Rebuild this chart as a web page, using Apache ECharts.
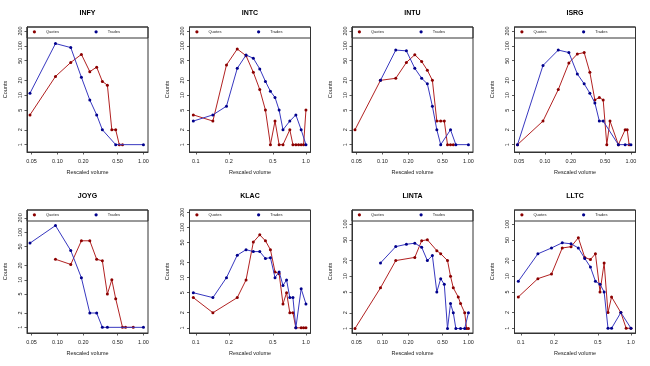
<!DOCTYPE html>
<html>
<head>
<meta charset="utf-8">
<script src="https://cdn.jsdelivr.net/npm/echarts@6/dist/echarts.min.js"></script>
<style>
  html, body { margin: 0; padding: 0; background: #fff; }
  #main { width: 650px; height: 366px; }
</style>
</head>
<body>
<div id="main"></div>
<script>
// rescaled volume bins shared by every panel
const bins = [0.048, 0.095, 0.143, 0.190, 0.238, 0.286, 0.333, 0.381, 0.429, 0.476, 0.524,
              0.571, 0.619, 0.667, 0.714, 0.762, 0.810, 0.857, 0.905, 0.952, 1.000];
const _ = null; // empty bin

// counts per bin (null = nothing in that bin)
const infyQuotes  = [4, 24, 46, 67, 30, 37, 19, 16, 2, 2, 1, 1, _, _, _, _, _, _, _, _, _];
const infyTrades  = [11, 111, 92, 23, 8, 4, 2, _, _, 1, _, _, _, _, _, _, _, _, _, _, 1];
const intcQuotes  = [_, 4, 3, 41, 86, 63, 29, 13, 5, 1, 3, 1, 1, _, 2, 1, 1, 1, 1, 1, 5];
const intcTrades  = [_, 3, 4, 6, 35, 65, 56, 34, 19, 12, 9, 5, 2, _, 3, _, 4, _, 2, _, 1];
const intuQuotes  = [2, 20, 22, 46, 66, 48, 32, 20, 3, 3, 3, 1, 1, 1, _, _, _, _, _, _, _];
const intuTrades  = [_, 20, 82, 79, 35, 22, 17, 6, 2, 1, _, _, 2, _, 1, _, _, _, _, _, 1];
const isrgQuotes  = [1, 3, 13, 45, 68, 73, 29, 8, 9, 8, 1, 3, _, _, 1, _, _, 2, 2, 1, _];
const isrgTrades  = [1, 40, 82, 73, 27, 17, 11, 7, 3, 3, _, _, _, _, 1, _, _, 1, _, _, 1];
const joygQuotes  = [_, 27, 21, 66, 66, 27, 25, 5, 10, 4, _, 1, 1, _, _, 1, _, _, _, _, _];
const joygTrades  = [59, 138, 41, 11, 2, 2, 1, 1, _, _, _, _, _, _, _, _, _, _, _, _, 1];
const klacQuotes  = [_, 4, 2, _, 4, 9, 51, 71, 54, 36, 13, 12, 3, 5, 2, 2, 1, _, 1, 1, 1];
const klacTrades  = [_, 5, 4, 10, 28, 36, 33, 33, 24, 25, 10, 13, 7, 9, 4, 4, 1, _, 6, _, 3];
const lintaQuotes = [1, 6, 20, _, 23, 48, 50, _, 31, 27, _, 20, 10, 6, _, 4, 3, _, 2, 1, 1];
const lintaTrades = [_, 18, 37, 41, 43, 36, 20, 25, 5, 9, 7, 1, 3, 2, 1, _, 1, _, 1, _, 2];
const lltcQuotes  = [_, 4, 9, 11, 35, 37, 55, 23, 21, 27, 5, 18, 2, 4, _, _, 2, _, 1, _, 1];
const lltcTrades  = [_, 8, 27, 35, 44, 42, 35, 22, 15, 8, 7, 5, 1, 1, _, _, 2, _, _, _, 1];

const tickers = ['INFY', 'INTC', 'INTU', 'ISRG', 'JOYG', 'KLAC', 'LINTA', 'LLTC'];
const quotes = [infyQuotes, intcQuotes, intuQuotes, isrgQuotes, joygQuotes, klacQuotes, lintaQuotes, lltcQuotes];
const trades = [infyTrades, intcTrades, intuTrades, isrgTrades, joygTrades, klacTrades, lintaTrades, lltcTrades];

const countTicks = [1, 2, 5, 10, 20, 50, 100, 200];
const volumeTicks = [0.05, 0.1, 0.2, 0.5, 1];

// axis limits
const xLimits = [[0.0443, 1.13], [0.0877, 1.10], [0.0443, 1.13], [0.0443, 1.13],
                 [0.0443, 1.13], [0.0877, 1.10], [0.0443, 1.13], [0.0877, 1.10]];
const yLimits = [[0.71, 240], [0.71, 240], [0.71, 240], [0.71, 240],
                 [0.76, 293], [0.79, 222], [0.82, 186], [0.81, 188]];

const font = 'Liberation Sans, Arial, sans-serif';
const cellW = 162.5, cellH = 183;
const gl = 27, gt = 27, gw = 121;

const pairs = arr => bins.map((b, i) => [b, arr[i]]).filter(p => p[1] != null);

let grid = [], xAxis = [], yAxis = [], series = [], title = [], legend = [], graphic = [];

tickers.forEach((name, i) => {
  const cx = (i % 4) * cellW, cy = Math.floor(i / 4) * cellH;
  const gh = i < 4 ? 125 : 123;
  const twoDigits = xLimits[i][0] < 0.05;
  const xt = volumeTicks.filter(v => v >= xLimits[i][0]);
  const yt = countTicks.filter(v => v <= yLimits[i][1]);

  grid.push({ left: cx + gl, top: cy + gt, width: gw, height: gh, show: true,
    borderColor: '#333', borderWidth: 1, backgroundColor: 'transparent', outerBoundsMode: 'none' });

  title.push({ text: name, left: cx + gl + gw / 2, top: cy + 9.5, textAlign: 'center', padding: 0,
    textStyle: { fontSize: 7, fontWeight: 'bold', color: '#000', fontFamily: font } });

  xAxis.push({
    type: 'log', gridIndex: i, min: xLimits[i][0], max: xLimits[i][1],
    axisLine: { show: true, lineStyle: { color: '#333', width: 1 } },
    splitLine: { show: false },
    axisTick: { show: true, customValues: xt, length: 2.5, lineStyle: { color: '#333', width: 0.8 } },
    axisLabel: { customValues: xt, fontSize: 5.5, margin: 6, color: '#222', fontFamily: font,
      formatter: v => twoDigits ? Number(v).toFixed(2) : Number(v).toFixed(1) },
    name: 'Rescaled volume', nameLocation: 'middle', nameGap: 17,
    nameTextStyle: { fontSize: 5.5, color: '#222', fontFamily: font }
  });

  yAxis.push({
    type: 'log', gridIndex: i, min: yLimits[i][0], max: yLimits[i][1],
    axisLine: { show: true, lineStyle: { color: '#333', width: 1 } },
    splitLine: { show: false },
    axisTick: { show: true, customValues: yt, length: 2.5, lineStyle: { color: '#333', width: 0.8 } },
    axisLabel: { customValues: yt, rotate: 90, fontSize: 5.5, margin: 4, color: '#222', fontFamily: font,
      formatter: v => String(Math.round(v)) },
    name: 'Counts', nameLocation: 'middle', nameGap: 19, nameRotate: 90,
    nameTextStyle: { fontSize: 5.5, color: '#222', fontFamily: font }
  });

  series.push({ name: 'Quotes', type: 'line', xAxisIndex: i, yAxisIndex: i, data: pairs(quotes[i]),
    symbol: 'circle', symbolSize: 3, itemStyle: { color: '#8B0000' },
    lineStyle: { color: '#B22222', width: 1 }, z: 2 });
  series.push({ name: 'Trades', type: 'line', xAxisIndex: i, yAxisIndex: i, data: pairs(trades[i]),
    symbol: 'circle', symbolSize: 3, itemStyle: { color: '#00008B' },
    lineStyle: { color: '#3838C0', width: 1 }, z: 3 });

  // legend strip across the top of the plot
  graphic.push({ type: 'rect', silent: true, z: 10,
    shape: { x: cx + gl, y: cy + gt, width: gw, height: 11 },
    style: { fill: 'transparent', stroke: '#333', lineWidth: 1 } });
  [['Quotes', '#8B0000', 32.8], ['Trades', '#00008B', 94.5]].forEach(([lab, col, lx]) => {
    legend.push({ data: [{ name: lab, itemStyle: { color: col } }], left: cx + lx, top: cy + 29.8,
      orient: 'horizontal', icon: 'circle', itemWidth: 3.2, itemHeight: 3.2, padding: 0, selectedMode: false,
      formatter: '{t|{name}}',
      textStyle: { fontSize: 4, color: '#222', fontFamily: font,
        rich: { t: { fontSize: 4, color: '#222', fontFamily: font, padding: [0, 0, 0, 5] } } } });
  });
});

const chart = echarts.init(document.getElementById('main'));
chart.setOption({
  animation: false,
  backgroundColor: '#fff',
  textStyle: { fontFamily: font },
  title, legend, grid, xAxis, yAxis, series, graphic
});
</script>
</body>
</html>
